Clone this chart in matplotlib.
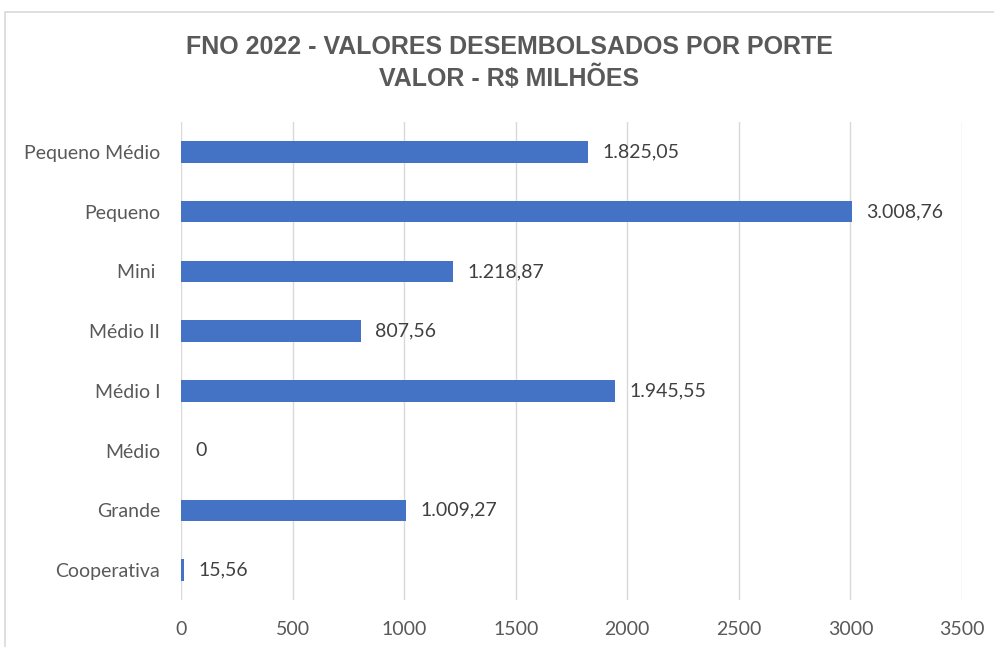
import matplotlib
matplotlib.use("Agg")
import matplotlib.pyplot as plt
from matplotlib.patches import Rectangle

categories = ["Cooperativa", "Grande", "Médio", "Médio I", "Médio II", "Mini ", "Pequeno", "Pequeno Médio"]
values = [15.56, 1009.27, 0, 1945.55, 807.56, 1218.87, 3008.76, 1825.05]
xticks = [0, 500, 1000, 1500, 2000, 2500, 3000, 3500]

def fmt_br(v):
    if v == 0:
        return "0"
    s = f"{v:,.2f}"
    return s.replace(",", "X").replace(".", ",").replace("X", ".")

label_font = ["Lato", "DejaVu Sans"]
title_font = ["Liberation Sans", "DejaVu Sans"]

fig = plt.figure(figsize=(9.94, 6.47), dpi=100)
fig.patches.append(Rectangle((5/994, -0.1), 1.2, 1 - 12/647 + 0.1, transform=fig.transFigure,
                             fill=False, edgecolor="#D9D9D9", linewidth=1.2))
ax = fig.add_axes([181/994, 1 - 600/647, (962 - 181)/994, (600 - 122)/647])

y = list(range(len(categories)))
ax.barh(y, values, height=0.36, color="#4472C4", zorder=3)
for yi, v in zip(y, values):
    ax.annotate(fmt_br(v), xy=(v, yi), xytext=(14, 0), textcoords="offset pixels",
                va="center", ha="left", fontsize=14, color="#404040", family=label_font)

ax.set_xlim(0, 3500)
ax.set_ylim(-0.5, len(categories) - 0.5)
ax.set_xticks(xticks)
ax.set_xticklabels([str(t) for t in xticks], fontsize=14, color="#595959", family=label_font)
ax.set_yticks(y)
ax.set_yticklabels(categories, fontsize=14, color="#595959", family=label_font)
ax.tick_params(axis="both", length=0)
ax.tick_params(axis="y", pad=15)
ax.tick_params(axis="x", pad=15)
ax.grid(axis="x", color="#D9D9D9", linewidth=1, zorder=0)
for s in ax.spines.values():
    s.set_visible(False)

fig.text(509/994, 1 - 47/647, "FNO 2022 - VALORES DESEMBOLSADOS POR PORTE", ha="center", va="center",
         fontsize=18, fontweight="bold", color="#595959", family=title_font)
fig.text(509/994, 1 - 78/647, "VALOR - R$ MILHÕES", ha="center", va="center",
         fontsize=18, fontweight="bold", color="#595959", family=title_font)

fig.savefig("out.png", dpi=100)
